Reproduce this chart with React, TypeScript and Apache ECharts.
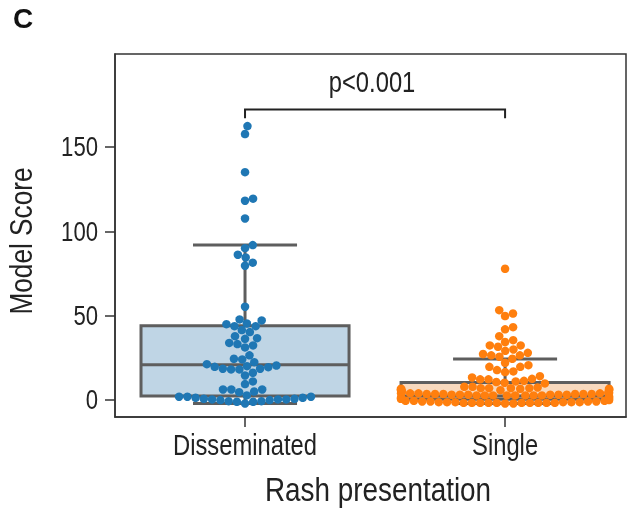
import React, { useEffect, useRef } from 'react';
import * as echarts from 'echarts';

const categories = ['Disseminated', 'Single'];

const disseminatedScores = [
  162.3, 157.6, 135, 119.3, 118.1, 107.6, 91.8, 90, 86.1, 84.5, 81.4, 79.6, 55.3,
  47.8, 47.2, 45.4, 45, 43.8, 43.8, 41.5, 40.3, 37.9, 36.7, 36.3, 33.9, 33.2, 32.4,
  31.2, 26.5, 24.5, 24.1, 22.5,
  21.3, 20.5, 20.1, 19.7, 19.5, 18.6, 18.6, 18.2, 18.2,
  16.2, 14.6, 11.1, 9.5,
  6.3, 6.3, 6.3, 5.1, 4.7, 2.8,
  -2, -1, -1, -0.6, -0.6, 0, 0, 0.4, 0.4, 0.4, 0.8, 0.8, 1.4, 1.4, 2, 2, 2,
];

const singleScores = [
  77.8, 53.3, 51.3, 49.8, 43.2, 41.9, 37.9, 35.5, 34.4, 32.4, 32.4, 31.6, 30, 29.2,
  28, 27.3, 26.5, 26.5, 25.7, 24.5, 22.1, 20.7, 19.7, 19.7, 17.8, 17, 16.6, 14.2, 13.4,
  12.6, 12.3, 12.3, 11.4, 11.1, 10.7, 10.3, 9.9,
  7.9, 7.9, 7.5, 7.1, 7.1, 7.1, 7.1, 6.7, 6.7, 6.7, 6.3, 6.3, 5.9, 5.9, 5.9,
  2.8, 2.8, 2.8, 2.8, 2.8, 2.8, 2.8, 2.8, 3.2, 3.2, 3.2, 3.2, 3.2, 3.2,
  3.6, 3.6, 3.6, 3.6, 3.6, 3.6, 4.0, 4.0, 4.0, 4.0, 4.3, 4.3,
  -2, -2, -1.6, -1.6, -1.6, -1.6, -1.6, -1.6, -1.6, -1.6, -1.6, -1.6,
  -1.2, -1.2, -1.2, -1.2, -1.2, -1.2, -0.8, -0.8, -0.8, -0.8, -0.4, -0.4, -0.4, 0.8, 0.8,
  1.5, 2, 5, 6.3, 0, 1,
];

// [lower whisker, Q1, median, Q3, upper whisker]
const disseminatedBox = [-2, 2.4, 21, 44, 91.8];
const singleBox = [-2, 0.5, 2.5, 10.5, 24.3];

const yTicks = [0, 50, 100, 150];
const categoryPositions = [0, 1];
const xTitle = 'Rash presentation';
const yTitle = 'Model Score';
const panelLabel = 'C';
const pLabel = 'p<0.001';
const bracketLevel = 172.2;
const bracketDrop = 166.9;
const pLabelLevel = 188.5;

const W = 640;
const H = 510;
const GRID = { left: 115, right: 14, top: 54, bottom: 93 };
const Y_MIN = -10;
const Y_MAX = 205;
const X_MIN = -0.5;
const X_MAX = 1.465;
const DOT = 8.5;
const BOX_HALF = 0.4;
const CAP_HALF = 0.2;

const FONT = '"Liberation Sans", Arial, sans-serif';
const NARROW = 0.82;
const TEXT_COLOR = '#222';
const DOT_COLORS = ['#1f77b4', '#ff7f0e'];
const BOX_FILLS = ['#bfd5e5', '#f8d9be'];
const BOX_STROKE = '#5e5e5e';
const AXIS_COLOR = '#333';

function swarmOffsets(values: number[], pxPerY: number, pxPerX: number, d: number, halfWidthPx: number) {
  const n = values.length;
  const order = values.map((_, i) => i).sort((a, b) => values[a] - values[b]);
  const placed: { x: number; y: number }[] = [];
  const out = new Array(n).fill(0);
  for (const idx of order) {
    const y = values[idx] * pxPerY;
    const neighbors = placed.filter((p) => Math.abs(p.y - y) < d);
    const cands: number[] = [0];
    for (const p of neighbors) {
      const dx = Math.sqrt(d * d - (p.y - y) * (p.y - y));
      cands.push(p.x + dx, p.x - dx);
    }
    const sorted = cands
      .map((c, k) => ({ c, k }))
      .sort((a, b) => Math.abs(a.c) - Math.abs(b.c) || a.k - b.k);
    let chosen = 0;
    for (const { c } of sorted) {
      let ok = true;
      for (const p of neighbors) {
        const dx = p.x - c;
        const dy = p.y - y;
        if (dx * dx + dy * dy < d * d - 1e-6) {
          ok = false;
          break;
        }
      }
      if (ok) {
        chosen = c;
        break;
      }
    }
    placed.push({ x: chosen, y });
    let xc = chosen;
    if (Math.abs(xc) > halfWidthPx) xc = Math.sign(xc) * halfWidthPx;
    out[idx] = xc / pxPerX;
  }
  return out;
}

export default function App() {
  const ref = useRef<HTMLDivElement>(null);

  useEffect(() => {
    if (!ref.current) return;
    const chart = echarts.init(ref.current, null, { renderer: 'svg' });

    const plotW = W - GRID.left - GRID.right;
    const plotH = H - GRID.top - GRID.bottom;
    const pxPerY = plotH / (Y_MAX - Y_MIN);
    const pxPerX = plotW / (X_MAX - X_MIN);

    const groups = [disseminatedScores, singleScores];
    const scatterSeries = groups.map((vals, gi) => {
      const offs = swarmOffsets(vals, pxPerY, pxPerX, DOT - 0.2, BOX_HALF * pxPerX);
      return {
        type: 'scatter',
        name: categories[gi],
        symbolSize: DOT,
        z: 3,
        itemStyle: { color: DOT_COLORS[gi], opacity: 1 },
        data: vals.map((v, i) => [categoryPositions[gi] + offs[i], v]),
      };
    });

    const boxData = [
      [categoryPositions[0], ...disseminatedBox],
      [categoryPositions[1], ...singleBox],
    ];

    const option: any = {
      animation: false,
      grid: {
        left: GRID.left,
        right: GRID.right,
        top: GRID.top,
        bottom: GRID.bottom,
        show: true,
        borderColor: AXIS_COLOR,
        borderWidth: 1.5,
        backgroundColor: 'transparent',
      },
      graphic: [
        {
          type: 'text',
          left: 13,
          top: 4,
          style: { text: panelLabel, fontFamily: FONT, fontWeight: 'bold', fontSize: 28, fill: '#111' },
        },
        {
          type: 'text',
          x: 378,
          y: 490,
          scaleX: NARROW,
          style: { text: xTitle, fontFamily: FONT, fontSize: 34, fill: TEXT_COLOR, align: 'center', verticalAlign: 'middle' },
        },
        {
          type: 'text',
          x: 21,
          y: 241,
          rotation: Math.PI / 2,
          scaleX: NARROW,
          style: { text: yTitle, fontFamily: FONT, fontSize: 32, fill: TEXT_COLOR, align: 'center', verticalAlign: 'middle' },
        },
      ],
      xAxis: {
        type: 'value',
        min: X_MIN,
        max: X_MAX,
        splitLine: { show: false },
        axisLine: { show: true, onZero: false, lineStyle: { color: AXIS_COLOR, width: 1.5 } },
        axisTick: { show: true, length: 10, customValues: categoryPositions, lineStyle: { color: AXIS_COLOR, width: 1.5 } },
        axisLabel: { show: false },
      },
      yAxis: {
        type: 'value',
        min: Y_MIN,
        max: Y_MAX,
        splitLine: { show: false },
        axisLine: { show: true, onZero: false, lineStyle: { color: AXIS_COLOR, width: 1.5 } },
        axisTick: { show: true, length: 10, customValues: yTicks, lineStyle: { color: AXIS_COLOR, width: 1.5 } },
        axisLabel: { show: false },
      },
      series: [
        {
          type: 'custom',
          z: 2,
          data: boxData,
          encode: { x: 0, y: [1, 2, 3, 4, 5] },
          renderItem: (params: any, api: any) => {
            const cat = api.value(0);
            const lo = api.value(1);
            const q1 = api.value(2);
            const med = api.value(3);
            const q3 = api.value(4);
            const hi = api.value(5);
            const tl = api.coord([cat - BOX_HALF, q3]);
            const br = api.coord([cat + BOX_HALF, q1]);
            const mL = api.coord([cat - BOX_HALF, med]);
            const mR = api.coord([cat + BOX_HALF, med]);
            const cTop = api.coord([cat, q3]);
            const cHi = api.coord([cat, hi]);
            const cBot = api.coord([cat, q1]);
            const cLo = api.coord([cat, lo]);
            const capHiL = api.coord([cat - CAP_HALF, hi]);
            const capHiR = api.coord([cat + CAP_HALF, hi]);
            const capLoL = api.coord([cat - CAP_HALF, lo]);
            const capLoR = api.coord([cat + CAP_HALF, lo]);
            const ls = { stroke: BOX_STROKE, lineWidth: 3, fill: null };
            return {
              type: 'group',
              children: [
                { type: 'line', shape: { x1: cTop[0], y1: cTop[1], x2: cHi[0], y2: cHi[1] }, style: ls },
                { type: 'line', shape: { x1: cBot[0], y1: cBot[1], x2: cLo[0], y2: cLo[1] }, style: ls },
                { type: 'line', shape: { x1: capHiL[0], y1: capHiL[1], x2: capHiR[0], y2: capHiR[1] }, style: ls },
                { type: 'line', shape: { x1: capLoL[0], y1: capLoL[1], x2: capLoR[0], y2: capLoR[1] }, style: ls },
                {
                  type: 'rect',
                  shape: { x: tl[0], y: tl[1], width: br[0] - tl[0], height: br[1] - tl[1] },
                  style: { fill: BOX_FILLS[params.dataIndex], stroke: BOX_STROKE, lineWidth: 3 },
                },
                { type: 'line', shape: { x1: mL[0], y1: mL[1], x2: mR[0], y2: mR[1] }, style: ls },
              ],
            };
          },
        },
        ...scatterSeries,
        {
          type: 'custom',
          z: 4,
          data: [[categoryPositions[0], categoryPositions[1], bracketLevel, bracketDrop, pLabelLevel]],
          encode: { x: [0, 1], y: [2, 3, 4] },
          renderItem: (params: any, api: any) => {
            const a = api.value(0);
            const b = api.value(1);
            const lvl = api.value(2);
            const drop = api.value(3);
            const tl = api.value(4);
            const p1 = api.coord([a, drop]);
            const p2 = api.coord([a, lvl]);
            const p3 = api.coord([b, lvl]);
            const p4 = api.coord([b, drop]);
            const pt = api.coord([(a + b) / 2, tl]);
            return {
              type: 'group',
              children: [
                {
                  type: 'polyline',
                  shape: { points: [p1, p2, p3, p4] },
                  style: { stroke: '#222', lineWidth: 2, fill: null },
                },
                {
                  type: 'text',
                  x: pt[0] - 3,
                  y: pt[1],
                  scaleX: NARROW,
                  style: {
                    text: pLabel,
                    fontFamily: FONT,
                    fontSize: 29,
                    fill: TEXT_COLOR,
                    align: 'center',
                    verticalAlign: 'middle',
                  },
                },
              ],
            };
          },
        },
        {
          // y tick labels, placed through the axis scale
          type: 'custom',
          z: 5,
          clip: false,
          data: yTicks.map((v) => [v]),
          encode: { y: 0 },
          renderItem: (params: any, api: any) => {
            const v = api.value(0);
            const p = api.coord([X_MIN, v]);
            return {
              type: 'text',
              x: p[0] - 17,
              y: p[1],
              scaleX: NARROW,
              style: {
                text: String(v),
                fontFamily: FONT,
                fontSize: 27,
                fill: TEXT_COLOR,
                align: 'right',
                verticalAlign: 'middle',
              },
            };
          },
        },
        {
          // category labels, placed through the axis scale
          type: 'custom',
          z: 5,
          clip: false,
          data: categoryPositions.map((p) => [p]),
          encode: { x: 0 },
          renderItem: (params: any, api: any) => {
            const i = api.value(0);
            const p = api.coord([i, Y_MIN]);
            return {
              type: 'text',
              x: p[0],
              y: p[1] + 14,
              scaleX: NARROW,
              style: {
                text: categories[params.dataIndex],
                fontFamily: FONT,
                fontSize: 29,
                fill: TEXT_COLOR,
                align: 'center',
                verticalAlign: 'top',
              },
            };
          },
        },
      ],
    };

    chart.setOption(option);
    return () => chart.dispose();
  }, []);

  return <div ref={ref} style={{ position: 'fixed', left: 0, top: 0, width: W, height: H }} />;
}
